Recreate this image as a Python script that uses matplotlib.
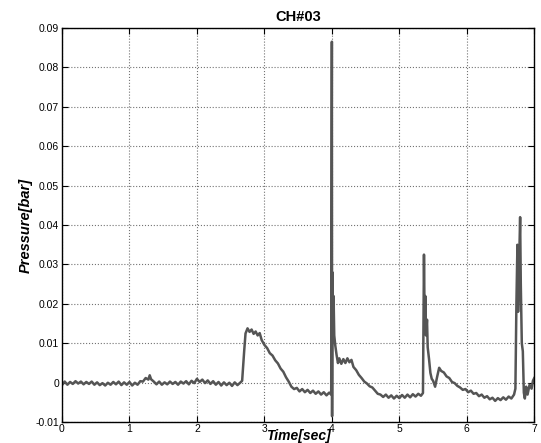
import matplotlib
matplotlib.use("Agg")
import numpy as np
import matplotlib.pyplot as plt

time_s = [
    0.00, 0.04, 0.08, 0.12, 0.16, 0.20, 0.24, 0.28, 0.32, 0.36, 0.40, 0.44, 0.48, 0.52,
    0.56, 0.60, 0.64, 0.68, 0.72, 0.76, 0.80, 0.84, 0.88, 0.92, 0.96, 1.00, 1.04, 1.08,
    1.12, 1.16, 1.20, 1.24, 1.28, 1.30, 1.32, 1.36, 1.40, 1.44, 1.48, 1.52, 1.56, 1.60,
    1.64, 1.68, 1.72, 1.76, 1.80, 1.84, 1.88, 1.92, 1.96, 2.00, 2.04, 2.08, 2.12, 2.16,
    2.20, 2.24, 2.28, 2.32, 2.36, 2.40, 2.44, 2.48, 2.52, 2.56, 2.60, 2.64,
    2.67, 2.70, 2.72, 2.75, 2.78, 2.81, 2.84, 2.87, 2.90, 2.93, 2.96, 3.00, 3.04, 3.08,
    3.12, 3.16, 3.20, 3.24, 3.28, 3.32, 3.36, 3.40, 3.44, 3.48, 3.52, 3.56, 3.60, 3.64,
    3.68, 3.72, 3.76, 3.80, 3.84, 3.88, 3.92, 3.96, 3.99,
    4.000, 4.003, 4.008, 4.015, 4.025, 4.035, 4.05, 4.07, 4.09, 4.11, 4.14, 4.17, 4.20,
    4.23, 4.26, 4.29, 4.32, 4.36, 4.40, 4.44, 4.48, 4.52, 4.56, 4.60, 4.64, 4.68, 4.72,
    4.76, 4.80, 4.84, 4.88, 4.92, 4.96, 5.00, 5.04, 5.08, 5.12, 5.16, 5.20, 5.24, 5.28,
    5.32, 5.35,
    5.365, 5.375, 5.385, 5.395, 5.41, 5.42, 5.44, 5.46, 5.48, 5.50, 5.53, 5.56, 5.59,
    5.62, 5.66, 5.70, 5.74, 5.78, 5.82, 5.86, 5.90, 5.94, 5.98, 6.02, 6.06, 6.10, 6.14,
    6.18, 6.22, 6.26, 6.30, 6.34, 6.38, 6.42, 6.46, 6.50, 6.54, 6.58, 6.62, 6.66, 6.70,
    6.72, 6.735, 6.75, 6.76, 6.775, 6.79, 6.80, 6.815, 6.83, 6.845, 6.86, 6.88, 6.90,
    6.93, 6.96, 6.98, 7.00,
]
pressure_mbar = [
    -0.6, 0.3, -0.5, 0.2, -0.3, 0.4, -0.2, 0.3, -0.4, 0.2, -0.3, 0.3, -0.5, 0.1,
    -0.6, -0.1, -0.7, 0.0, -0.5, 0.2, -0.4, 0.3, -0.6, 0.1, -0.5, 0.2, -0.7, 0.0,
    -0.5, 0.4, 0.3, 1.2, 0.8, 1.9, 0.9, 0.3, -0.4, 0.3, -0.5, 0.1, -0.4, 0.3,
    -0.3, 0.2, -0.5, 0.3, -0.2, 0.4, -0.4, 0.5, -0.1, 1.0, 0.2, 0.8, -0.1, 0.6,
    -0.3, 0.4, -0.5, 0.2, -0.7, 0.1, -0.6, 0.0, -0.8, 0.1, -0.6, 0.0,
    0.5, 8.0, 12.5, 13.8, 12.9, 13.5, 12.4, 13.0, 12.0, 12.6, 10.8, 9.6, 8.8, 7.5,
    6.9, 5.7, 4.9, 3.6, 2.8, 1.4, 0.3, -1.0, -1.6, -1.3, -2.2, -1.6, -2.4, -1.8,
    -2.6, -2.0, -2.8, -2.2, -3.0, -2.4, -3.2, -2.5, -3.0,
    86.5, -8.5, 28.0, 18.0, 22.0, 12.0, 9.5, 7.0, 5.0, 6.2, 4.8, 6.0, 5.0,
    6.2, 5.2, 5.8, 4.0, 3.2, 2.0, 1.2, 0.3, -0.2, -0.9, -1.2, -2.0, -2.8, -3.0,
    -3.6, -3.0, -3.8, -3.2, -4.0, -3.3, -3.9, -3.1, -3.8, -3.0, -3.7, -2.9, -3.5, -2.8,
    -3.3, -2.6,
    32.5, 15.0, 22.0, 12.0, 16.0, 9.0, 6.0, 2.5, 1.0, 0.5, -1.0, 1.5, 3.8,
    3.0, 2.6, 1.6, 1.2, 0.2, -0.1, -0.8, -1.2, -1.8, -1.6, -2.4, -2.0, -2.8, -2.6,
    -3.4, -3.0, -3.8, -3.4, -4.2, -3.8, -4.6, -3.9, -4.4, -3.7, -4.3, -3.5, -4.0, -3.0,
    -1.5, 20.0, 35.0, 18.0, 30.0, 42.0, 25.0, 10.0, 8.0, -2.5, -4.0, -1.0, -3.0,
    -0.5, -1.5, 0.5, 1.2,
]

pressure_bar = np.array(pressure_mbar) / 1000.0

plt.rcParams['font.family'] = ['Liberation Sans', 'DejaVu Sans']

fig = plt.figure(figsize=(5.41, 4.43), dpi=100)
ax = fig.add_axes([0.1146, 0.047, 0.873, 0.89])

ax.plot(time_s, pressure_bar, color='#555555', linewidth=1.8)

ax.set_xlim(0, 7)
ax.set_ylim(-0.01, 0.09)
ax.set_xticks(range(0, 8))
ax.set_yticks(np.arange(-0.01, 0.091, 0.01))
ax.set_yticklabels(['-0.01', '0', '0.01', '0.02', '0.03', '0.04', '0.05',
                    '0.06', '0.07', '0.08', '0.09'])
ax.grid(True, linestyle=':', color='0.45', linewidth=0.8)
ax.tick_params(direction='in', top=True, right=True, length=4, labelsize=7.5)
ax.tick_params(axis='x', pad=1.5)
ax.tick_params(axis='y', pad=2)
for s in ax.spines.values():
    s.set_linewidth(1.0)

ax.set_title('CH#03', fontsize=10.5, fontweight='bold', pad=5)
ax.set_xlabel('Time[sec]', fontsize=10, fontweight='bold', style='italic')
ax.xaxis.set_label_coords(0.5, -0.052)
ax.xaxis.label.set_va('bottom')
ax.set_ylabel('Pressure[bar]', fontsize=10.5, fontweight='bold', style='italic', labelpad=2)

fig.savefig('out.png', dpi=100)
